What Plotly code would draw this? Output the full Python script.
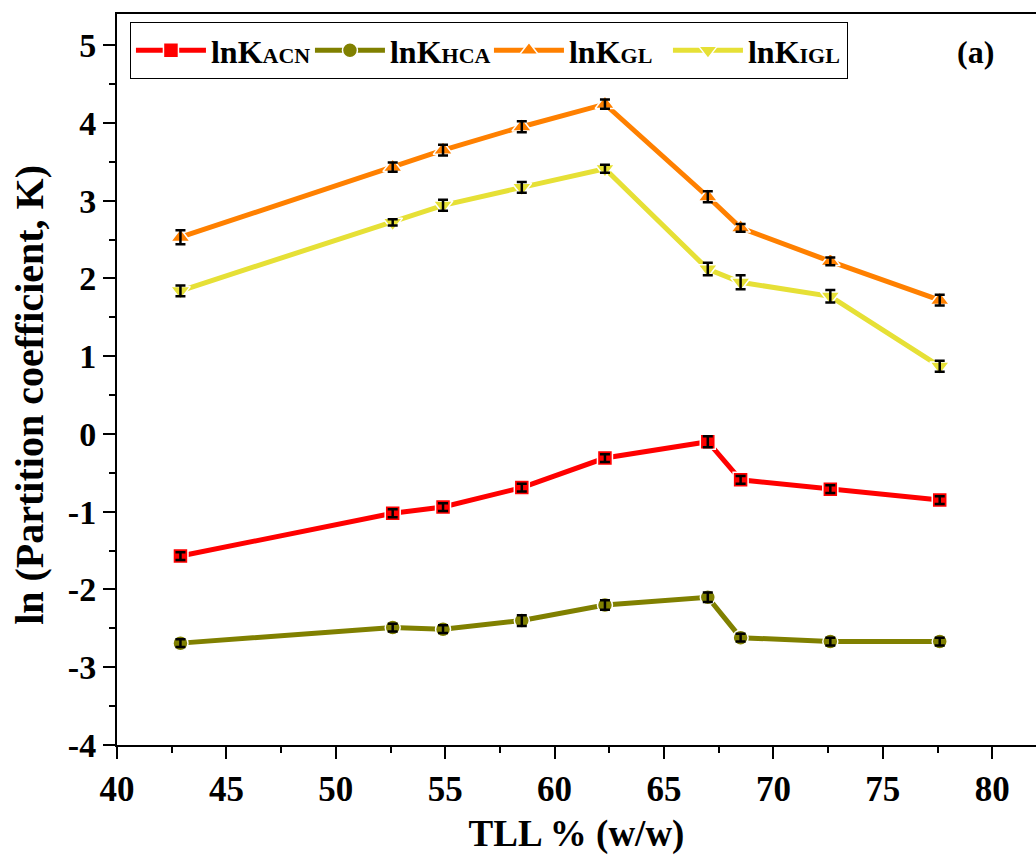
import plotly.graph_objects as go

tll = [42.9, 52.6, 54.9, 58.5, 62.3, 67.0, 68.5, 72.6, 77.6]

ln_k_acn = [-1.57, -1.02, -0.94, -0.69, -0.31, -0.10, -0.59, -0.71, -0.85]
ln_k_hca = [-2.69, -2.49, -2.51, -2.40, -2.20, -2.10, -2.62, -2.67, -2.67]
ln_k_gl = [2.53, 3.43, 3.65, 3.95, 4.24, 3.05, 2.65, 2.22, 1.72]
ln_k_igl = [1.84, 2.72, 2.94, 3.17, 3.41, 2.12, 1.95, 1.77, 0.87]

err_acn = [0.05, 0.05, 0.05, 0.05, 0.05, 0.07, 0.05, 0.05, 0.05]
err_hca = [0.05, 0.05, 0.05, 0.07, 0.06, 0.06, 0.05, 0.05, 0.05]
err_gl = [0.09, 0.06, 0.07, 0.07, 0.06, 0.07, 0.05, 0.05, 0.07]
err_igl = [0.07, 0.04, 0.07, 0.07, 0.05, 0.08, 0.09, 0.08, 0.07]

y_tick_vals = [-4, -3, -2, -1, 0, 1, 2, 3, 4, 5]
y_tick_text = ["-4", "-3", "-2", "-1", "0", "1", "2", "3", "4", "5"]

names = ["lnK<span style='font-size:22px'>ACN</span>",
         "lnK<span style='font-size:22px'>HCA</span>",
         "lnK<span style='font-size:22px'>GL</span>",
         "lnK<span style='font-size:22px'>IGL</span>"]
colors = ["#FF0000", "#808000", "#FF8000", "#E6E036"]
symbols = ["square", "circle", "triangle-up", "triangle-down"]
sizes = [15, 15, 17, 17]
series = [ln_k_acn, ln_k_hca, ln_k_gl, ln_k_igl]
errs = [err_acn, err_hca, err_gl, err_igl]

FONT = "Liberation Serif, Times New Roman, serif"

fig = go.Figure()
for name, col, sym, sz, ys in zip(names, colors, symbols, sizes, series):
    fig.add_trace(go.Scatter(
        x=tll, y=ys, name=name, mode="lines+markers",
        line=dict(color=col, width=5),
        marker=dict(symbol=sym, size=sz, color=col, line=dict(color="white", width=1.5)),
    ))
# error bars drawn above the markers
for ys, es in zip(series, errs):
    fig.add_trace(go.Scatter(
        x=tll, y=ys, mode="markers", showlegend=False, hoverinfo="skip",
        marker=dict(size=1, color="rgba(0,0,0,0)"),
        error_y=dict(type="data", array=es, visible=True, color="black", thickness=2.5, width=5),
    ))

fig.add_annotation(x=0.934, y=0.948, xref="paper", yref="paper", text="(a)",
                   showarrow=False, xanchor="center", yanchor="middle",
                   font=dict(family=FONT, size=32, color="black", weight="bold"))

fig.add_annotation(x=0, y=0.479, xref="paper", yref="paper", xshift=-87,
                   text="ln (Partition coefficient, K)", textangle=-90,
                   showarrow=False, xanchor="center", yanchor="middle",
                   font=dict(family=FONT, size=40, color="black", weight="bold"))

fig.update_layout(
    width=1036, height=855,
    margin=dict(l=117, r=0, t=14, b=110),
    plot_bgcolor="white", paper_bgcolor="white",
    font=dict(family=FONT, color="black", weight="bold"),
    showlegend=True,
    legend=dict(orientation="h", x=0.0141, y=0.989, xanchor="left", yanchor="top",
                bordercolor="black", borderwidth=1, bgcolor="white",
                font=dict(family=FONT, size=32, color="black", weight="bold"),
                itemwidth=70, entrywidth=94, entrywidthmode="pixels", tracegroupgap=0),
    xaxis=dict(range=[40, 82], tickmode="linear", tick0=40, dtick=5,
               ticks="outside", ticklen=12, tickwidth=2, tickcolor="black",
               showline=True, linewidth=2, linecolor="black", mirror=True,
               showgrid=False, zeroline=False,
               minor=dict(dtick=2.5, ticks="outside", ticklen=6, tickwidth=2, tickcolor="black"),
               tickfont=dict(family=FONT, size=35, color="black", weight="bold"),
               title=dict(text="TLL % (w/w)", standoff=16,
                          font=dict(family=FONT, size=37, color="black", weight="bold"))),
    yaxis=dict(range=[-4, 5.4], tickmode="array", tickvals=y_tick_vals, ticktext=y_tick_text,
               ticks="outside", ticklen=12, tickwidth=2, tickcolor="black",
               showline=True, linewidth=2, linecolor="black", mirror=False,
               showgrid=False, zeroline=False,
               minor=dict(dtick=0.5, tick0=-4, ticks="outside", ticklen=6, tickwidth=2, tickcolor="black"),
               tickfont=dict(family=FONT, size=34, color="black", weight="bold")),
)

fig.write_html("out.html")
